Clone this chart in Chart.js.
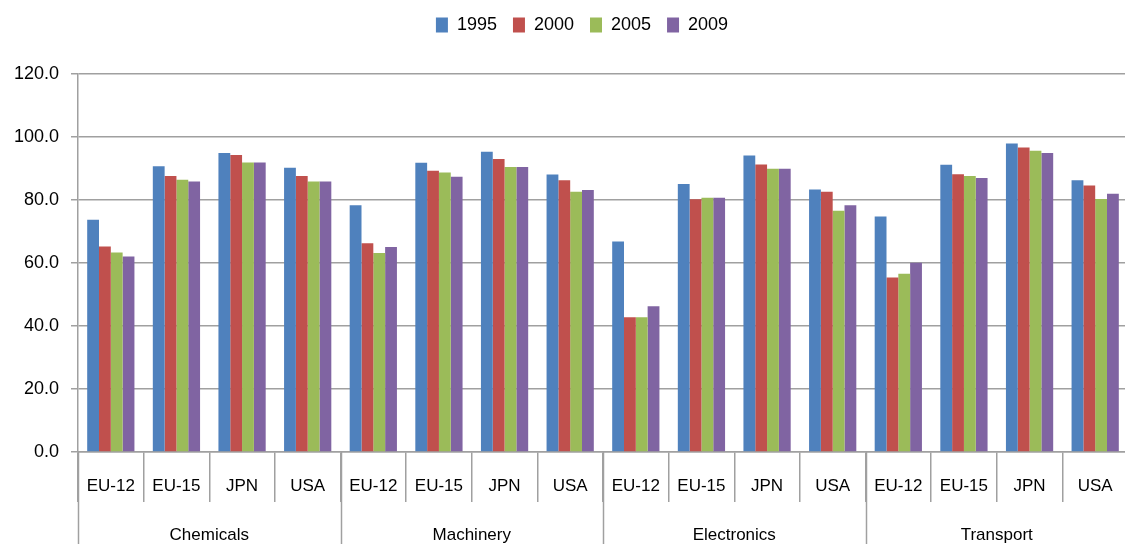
<!DOCTYPE html>
<html>
<head>
<meta charset="utf-8">
<script src="https://cdn.jsdelivr.net/npm/chart.js@4/dist/chart.umd.min.js"></script>
<style>
  html, body { margin: 0; padding: 0; background: #fff; overflow: hidden; }
  #wrap { width: 1160px; height: 544px; }
</style>
</head>
<body>
<div id="wrap"><canvas id="chart"></canvas></div>
<script>
const sectors = ["Chemicals", "Machinery", "Electronics", "Transport"];
const regions = ["EU-12", "EU-15", "JPN", "USA"];
const years = ["1995", "2000", "2005", "2009"];

// values per year, ordered sector by sector (EU-12, EU-15, JPN, USA)
const v1995 = [73.7, 90.7, 94.9, 90.2, 78.3, 91.8, 95.3, 88.1, 66.8, 85.1, 94.1, 83.3, 74.8, 91.2, 97.9, 86.3];
const v2000 = [65.2, 87.6, 94.3, 87.6, 66.3, 89.3, 93.0, 86.3, 42.8, 80.2, 91.3, 82.6, 55.4, 88.2, 96.7, 84.6];
const v2005 = [63.3, 86.4, 91.9, 85.9, 63.2, 88.7, 90.5, 82.6, 42.8, 80.7, 89.9, 76.6, 56.6, 87.6, 95.6, 80.3];
const v2009 = [62.1, 85.9, 91.9, 85.9, 65.1, 87.4, 90.5, 83.2, 46.3, 80.7, 89.9, 78.3, 60.1, 87.0, 94.9, 82.0];

const colors = ["#4F81BD", "#C0504D", "#9BBB59", "#8064A2"];
const gridGray = "#a0a0a0";
const font = "'Liberation Sans', Arial, sans-serif";

const labels = [];
sectors.forEach(() => regions.forEach(r => labels.push(r)));

const seriesValues = [v1995, v2000, v2005, v2009];

// extra room under the legend, and nudge it a bit to the right
const legendGap = {
  id: "legendGap",
  beforeInit(chart) {
    const fit = chart.legend.fit;
    chart.legend.fit = function () {
      fit.bind(chart.legend)();
      this.height += 30;
    };
  },
  afterLayout(chart) {
    chart.legend.left += 18;
    chart.legend.right += 18;
  }
};

// draws the sector level of the axis below the region labels
const sectorAxis = {
  id: "sectorAxis",
  afterDraw(chart) {
    const x = chart.scales.x;
    const ctx = chart.ctx;
    const slot = x.width / labels.length;
    ctx.save();
    ctx.strokeStyle = gridGray;
    ctx.lineWidth = 1.5;
    for (let i = 0; i <= sectors.length; i++) {
      const px = Math.round(x.left + i * regions.length * slot) + 0.5;
      ctx.beginPath();
      ctx.moveTo(px, x.top);
      ctx.lineTo(px, chart.height);
      ctx.stroke();
    }
    ctx.fillStyle = "#000";
    ctx.font = "17px " + font;
    ctx.textAlign = "center";
    ctx.textBaseline = "middle";
    sectors.forEach((s, i) => {
      const cx = x.left + (i * regions.length + regions.length / 2) * slot;
      ctx.fillText(s, cx, 535);
    });
    ctx.restore();
  }
};

new Chart(document.getElementById("chart"), {
  type: "bar",
  data: {
    labels: labels,
    datasets: years.map((y, i) => ({
      label: y,
      data: seriesValues[i],
      backgroundColor: colors[i],
      borderWidth: 0,
      categoryPercentage: 0.72,
      barPercentage: 1.0,
    })),
  },
  options: {
    responsive: true,
    maintainAspectRatio: false,
    animation: false,
    layout: { padding: { left: 0, top: 0, right: 32, bottom: 0 } },
    plugins: {
      legend: {
        position: "top",
        labels: {
          boxWidth: 12,
          boxHeight: 15,
          padding: 16,
          color: "#000",
          font: { family: font, size: 18 },
        },
      },
      tooltip: { enabled: false },
    },
    scales: {
      x: {
        grid: {
          display: true,
          drawOnChartArea: false,
          drawTicks: true,
          tickLength: 50,
          offset: true,
          color: gridGray,
          lineWidth: 1.5,
        },
        border: { color: gridGray, width: 1.5 },
        ticks: {
          color: "#000",
          font: { family: font, size: 17 },
          padding: -26,
          maxRotation: 0,
          autoSkip: false,
        },
        afterFit(scale) { scale.height = 92; },
      },
      y: {
        min: 0,
        max: 120,
        grid: {
          color: gridGray,
          lineWidth: 1.5,
          tickLength: 7,
        },
        border: { color: gridGray, width: 1.5 },
        ticks: {
          stepSize: 20,
          padding: 12,
          color: "#000",
          font: { family: font, size: 18 },
          callback: v => v.toFixed(1),
        },
        afterFit(scale) { scale.width = 78; },
      },
    },
  },
  plugins: [legendGap, sectorAxis],
});
</script>
</body>
</html>
